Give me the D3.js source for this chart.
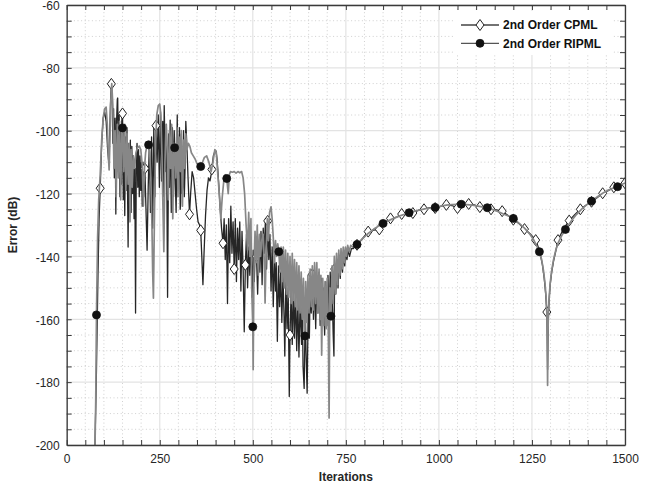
<!DOCTYPE html>
<html><head><meta charset="utf-8">
<script src="https://cdn.jsdelivr.net/npm/d3@7"></script>
<style>
html,body{margin:0;padding:0;background:#fff;}
svg{display:block;font-family:"Liberation Sans",Arial,Helvetica,sans-serif;}
</style></head>
<body>
<svg id="chart" width="662" height="486"></svg>
<script>
// ---------------- DATA ----------------
const xTicksMajor = [0, 250, 500, 750, 1000, 1250, 1500];
const yTicksMajor = [-200, -180, -160, -140, -120, -100, -80, -60];
const xLabel = "Iterations";
const yLabel = "Error (dB)";
const seriesNames = ["2nd Order CPML", "2nd Order RIPML"];
const cpmlMarkerStep = 30;               // diamond on samples where iteration % 30 == 0
const ripmlMarkerStep = 70, ripmlMarkerOffset = 10; // circle on iteration % 70 == 10

// CPML, oscillating early part  [iteration, dB]
const cpmlEarly = [[70,-215],[76,-200],[80,-176],[84,-146],[87,-128],[90,-118.3],[94,-104],[98,-96],[102,-94],[106,-97],[110,-106],[113,-110],[116,-99],[118,-90],[120,-85.1],[122,-88],[124,-104],[126,-93],[128,-115],[130,-96],[132,-126.5],[134,-97],[136,-90],[137,-89.6],[139,-110],[141,-95],[143,-121],[145,-99],[147,-117],[148,-97],[150,-94.5],[152,-122],[154,-100],[156,-127],[158,-102],[160,-119],[162,-99],[164,-125],[165,-137],[167,-104],[169,-123],[171,-103],[173,-126],[175,-105],[177,-120],[179,-108],[181,-128],[183,-112],[185,-158],[187,-110],[189,-104],[191,-118],[193,-106],[195,-121],[197,-108],[199,-119],[201,-110],[203,-124],[205,-110],[207,-121],[210,-112],[213,-125],[216,-138],[219,-118],[222,-104],[225,-126],[228,-102],[231,-131],[234,-99],[237,-121],[240,-98.4],[243,-110],[246,-95],[249,-118],[252,-94],[255,-116],[258,-97],[260,-121],[262,-92],[265,-113],[268,-98],[271,-153],[274,-101],[276,-118],[278,-96.6],[281,-126],[284,-99],[287,-121],[289,-100],[292,-117],[294,-126],[297,-95],[299,-118],[301,-111],[303,-99],[305,-125],[306,-123],[308,-101],[310,-120],[312,-118],[314,-100],[316,-121],[318,-112],[320,-97],[323,-105],[326,-115],[330,-126.6],[333,-120],[337,-113],[341,-115],[345,-120],[349,-125],[353,-129],[357,-130],[360,-131.7],[363,-140],[366,-149],[369,-139],[373,-127],[377,-119],[381,-115],[385,-116],[388,-114],[390,-112.3],[394,-108],[398,-106.6],[401,-106.4],[404,-109],[408,-116],[412,-124],[416,-131],[420,-135.8],[423,-128],[426,-141],[429,-130],[432,-155],[435,-128],[438,-142],[441,-124],[444,-139],[447,-129],[450,-144],[453,-128],[456,-148],[459,-131],[462,-141],[465,-129],[468,-151],[471,-132],[474,-144],[477,-164],[480,-142.7],[483,-133],[486,-150],[489,-137],[492,-146],[495,-134],[498,-153],[501,-138],[504,-148],[507,-136],[510,-140],[513,-152],[516,-138],[519,-145],[522,-132],[525,-149],[528,-131],[531,-139],[534,-128],[537,-144],[540,-128.7],[543,-141],[546,-133],[549,-151],[552,-137],[555,-156],[558,-140],[561,-151],[563,-142],[566,-167],[569,-143],[572,-156],[575,-145],[578,-161],[581,-146],[584,-159],[586,-171.7],[589,-148],[592,-163],[595,-150],[598,-184.6],[600,-165],[603,-151],[606,-168],[609,-150],[612,-166],[615,-152],[618,-170],[621,-154],[624,-172],[627,-155],[631,-168],[633,-153],[635,-175],[638,-182],[641,-156],[643,-170],[646,-183.5],[649,-155],[652,-166],[654,-150],[657,-158],[660,-145.7],[663,-160],[666,-147],[669,-163],[672,-146],[675,-158],[678,-145],[681,-162],[684,-147],[687,-160],[689,-150],[693,-165],[696,-148],[699,-162],[702,-146],[705,-160],[708,-145],[711,-158],[713,-150],[716,-165],[718,-171.7],[720,-144],[723,-152],[726,-141],[729,-150],[732,-140],[735,-147],[738,-139],[741,-145],[744,-138],[747,-143],[749,-139],[753,-141],[756,-138],[760,-140],[765,-137.5],[770,-137.5],[775,-136.5]];
// CPML, smooth late part
const cpmlLate = [[780,-136.3],[795,-134.3],[810,-132.1],[825,-131.6],[840,-131.4],[855,-129.2],[870,-127.9],[885,-127.6],[900,-126.5],[915,-126.4],[930,-126.2],[945,-125.3],[960,-125.0],[975,-124.5],[990,-124.6],[1005,-124.1],[1020,-123.6],[1035,-123.8],[1050,-124.6],[1065,-123.6],[1080,-123.3],[1095,-123.6],[1110,-124.3],[1125,-124.4],[1140,-125.0],[1155,-125.2],[1170,-125.6],[1185,-126.9],[1200,-128.3],[1215,-129.5],[1230,-131.3],[1245,-132.8],[1260,-134.8],[1270,-138.0],[1278,-142.5],[1283,-147],[1287,-152],[1290,-157.7],[1291,-165],[1292,-176],[1293,-167],[1294,-160],[1296,-154],[1299,-149],[1303,-145],[1308,-141.5],[1314,-138.3],[1320,-134.8],[1335,-131.2],[1350,-128.6],[1365,-126.7],[1380,-125.0],[1395,-123.7],[1410,-122.6],[1425,-121.3],[1440,-119.9],[1455,-119.1],[1470,-118.0],[1485,-117.5],[1500,-116.7]];

// RIPML, oscillating early part
const ripmlEarly = [[70,-215],[76,-201],[78,-186],[80,-158.6],[83,-134],[86,-122],[90,-114],[94,-103],[98,-96],[102,-93],[106,-92.5],[109,-98],[112,-108],[114,-112.5],[116,-104],[118,-92],[121,-85],[124,-92],[127,-112],[130,-100],[133,-121],[136,-98],[139,-115],[142,-97],[145,-122],[148,-100],[150,-99.1],[153,-113],[156,-98],[159,-119],[162,-101],[165,-117],[168,-104],[170,-129],[173,-106],[176,-118],[179,-108],[182,-112],[186,-107],[190,-105.5],[195,-104.9],[199,-106],[203,-111],[206,-124],[209,-112],[212,-107],[216,-104.6],[220,-104.5],[223,-107],[226,-115],[229,-130],[231,-145],[233,-153.3],[236,-125],[239,-104],[242,-95],[246,-92],[250,-91.5],[253,-95],[256,-108],[258,-121],[261,-138.5],[264,-110],[267,-98],[270,-105],[273,-122],[276,-100],[279,-112],[282,-98],[285,-128],[288,-104],[290,-105.4],[293,-115],[296,-99],[299,-121],[302,-102],[305,-113],[308,-100],[311,-124],[314,-103],[317,-112],[320,-101],[323,-106],[327,-104],[331,-105],[335,-107],[340,-108],[345,-109],[350,-110.5],[355,-111],[360,-111.4],[365,-110],[370,-108.5],[376,-108],[382,-110],[388,-113],[393,-110],[398,-106],[402,-107],[406,-114],[410,-120],[414,-128],[418,-121],[422,-116],[426,-114],[430,-115.2],[434,-120],[437,-114],[440,-113],[445,-113.2],[450,-113],[455,-113.5],[460,-113],[465,-113.4],[470,-113],[474,-115],[478,-120],[482,-130],[486,-138],[489,-126],[492,-140],[495,-128],[497,-150],[500,-162.4],[501,-176],[503,-145],[506,-132],[509,-142],[512,-130],[515,-146],[518,-133],[521,-140],[524,-135],[528,-133],[531,-142],[533,-154.8],[536,-138],[539,-128],[542,-135],[545,-126],[549,-124.2],[552,-128],[555,-134],[558,-142],[561,-135],[564,-140],[567,-136],[570,-138.5],[573,-145],[576,-137],[579,-148],[582,-137],[585,-150],[588,-138],[591,-152],[594,-139],[597,-153],[600,-140],[603,-155],[606,-139],[609,-154],[612,-141],[615,-156],[618,-142],[621,-157],[624,-143],[627,-158],[630,-145],[633,-160],[636,-147],[638,-162],[640,-165.3],[642,-148],[645,-161],[648,-146],[651,-158],[654,-144],[657,-156],[660,-143],[663,-157],[666,-142],[669,-155],[672,-142],[675,-158],[678,-144],[681,-160],[683,-146],[685,-171.4],[688,-147],[691,-162],[694,-148],[697,-163],[700,-147],[703,-165],[705,-191.4],[707,-150],[710,-159],[713,-143],[716,-155],[719,-140],[722,-152],[725,-139],[728,-149],[731,-138],[734,-146],[737,-137.5],[740,-144],[743,-137],[746,-142],[749,-137],[752,-140],[755,-136.5],[759,-138.5],[763,-136.5],[768,-137],[774,-136.3]];
// RIPML, smooth late part
const ripmlLate = [[780,-136.2],[795,-134.3],[810,-132.7],[825,-131.3],[840,-130.2],[850,-129.5],[865,-128.6],[880,-127.8],[895,-127.1],[910,-126.5],[920,-126.1],[935,-125.6],[950,-125.2],[965,-124.8],[980,-124.5],[990,-124.4],[1005,-124.0],[1020,-123.7],[1035,-123.5],[1050,-123.4],[1060,-123.4],[1075,-123.5],[1090,-123.7],[1105,-124.0],[1120,-124.3],[1130,-124.5],[1145,-125.1],[1160,-125.8],[1175,-126.6],[1190,-127.3],[1200,-127.9],[1215,-129.4],[1230,-131.0],[1245,-133.0],[1255,-134.8],[1265,-137.2],[1270,-138.5],[1276,-141],[1281,-144.5],[1285,-148.5],[1288,-153],[1290,-158],[1291,-164],[1292,-181],[1293,-165],[1294,-159],[1296,-153.5],[1299,-148.5],[1303,-144.5],[1308,-141],[1314,-138],[1320,-135.8],[1330,-133.4],[1340,-131.4],[1355,-128.8],[1370,-126.6],[1385,-124.8],[1400,-123.3],[1410,-122.4],[1425,-121.1],[1440,-119.9],[1455,-118.9],[1470,-118.2],[1480,-117.8],[1490,-117.2],[1500,-116.6]];

// ---------------- CHART ----------------
const W = 662, H = 486;
const m = {left: 66.7, right: 625, top: 5, bottom: 445};
const svg = d3.select("#chart");

const x = d3.scaleLinear().domain([0, 1500]).range([m.left, m.right]);
const y = d3.scaleLinear().domain([-200, -60]).range([m.bottom, m.top]);

const xMinor = d3.range(0, 1501, 50);
const yMinor = d3.range(-200, -59, 5);

const colCPML = "#262626", colRIPML = "#878787", axisCol = "#3a3a3a", textCol = "#262626";

svg.append("rect").attr("x", m.left).attr("y", m.top).attr("width", m.right - m.left).attr("height", m.bottom - m.top).attr("fill", "#fff");

// minor grid (dotted)
const grid = svg.append("g");
grid.selectAll(".mx").data(xMinor.filter(d => d % 250 !== 0)).join("line")
  .attr("x1", d => x(d)).attr("x2", d => x(d)).attr("y1", m.top).attr("y2", m.bottom)
  .attr("stroke", "#c4c4c4").attr("stroke-width", 0.8).attr("stroke-dasharray", "1,2.6");
grid.selectAll(".my").data(yMinor.filter(d => d % 20 !== 0)).join("line")
  .attr("y1", d => y(d)).attr("y2", d => y(d)).attr("x1", m.left).attr("x2", m.right)
  .attr("stroke", "#c4c4c4").attr("stroke-width", 0.8).attr("stroke-dasharray", "1,2.6");
// major grid (solid light)
grid.selectAll(".gx").data(xTicksMajor).join("line")
  .attr("x1", d => x(d)).attr("x2", d => x(d)).attr("y1", m.top).attr("y2", m.bottom)
  .attr("stroke", "#e3e3e3").attr("stroke-width", 1.2);
grid.selectAll(".gy").data(yTicksMajor).join("line")
  .attr("y1", d => y(d)).attr("y2", d => y(d)).attr("x1", m.left).attr("x2", m.right)
  .attr("stroke", "#e3e3e3").attr("stroke-width", 1.2);

svg.append("clipPath").attr("id", "clip").append("rect")
  .attr("x", m.left).attr("y", m.top).attr("width", m.right - m.left).attr("height", m.bottom - m.top);
const plot = svg.append("g").attr("clip-path", "url(#clip)");

const line = d3.line().x(d => x(d[0])).y(d => y(d[1]));
const cpml = cpmlEarly.concat(cpmlLate);
const ripml = ripmlEarly.concat(ripmlLate);

function diamond(g, cx, cy) {
  g.append("path").attr("d", `M${cx},${cy - 5.5}L${cx + 4},${cy}L${cx},${cy + 5.5}L${cx - 4},${cy}Z`)
    .attr("fill", "#fff").attr("stroke", "#222").attr("stroke-width", 1);
}
function dot(g, cx, cy) {
  g.append("circle").attr("cx", cx).attr("cy", cy).attr("r", 4).attr("fill", "#111").attr("stroke", "#111").attr("stroke-width", 0.8);
}

// CPML
plot.append("path").datum(cpml).attr("d", line).attr("fill", "none")
  .attr("stroke", colCPML).attr("stroke-width", 1.3).attr("stroke-linejoin", "round");
const cpmlMk = plot.append("g");
cpml.filter(d => d[0] % cpmlMarkerStep === 0 && d[1] >= -200).forEach(d => diamond(cpmlMk, x(d[0]), y(d[1])));

// RIPML
plot.append("path").datum(ripml).attr("d", line).attr("fill", "none")
  .attr("stroke", colRIPML).attr("stroke-width", 1.7).attr("stroke-linejoin", "round");
const ripMk = plot.append("g");
ripml.filter(d => d[0] % ripmlMarkerStep === ripmlMarkerOffset && d[1] >= -200).forEach(d => dot(ripMk, x(d[0]), y(d[1])));

// axes
const fmt = d => String(d);
const axB = svg.append("g").attr("transform", `translate(0,${m.bottom})`)
  .call(d3.axisBottom(x).tickValues(xMinor).tickSizeInner(-5).tickSizeOuter(0).tickPadding(9)
    .tickFormat(d => d % 250 === 0 ? fmt(d) : ""));
const axL = svg.append("g").attr("transform", `translate(${m.left},0)`)
  .call(d3.axisLeft(y).tickValues(yMinor).tickSizeInner(-5).tickSizeOuter(0).tickPadding(7)
    .tickFormat(d => d % 20 === 0 ? fmt(d) : ""));
const axT = svg.append("g").attr("transform", `translate(0,${m.top})`)
  .call(d3.axisTop(x).tickValues(xMinor).tickSizeInner(-5).tickSizeOuter(0).tickFormat(""));
const axR = svg.append("g").attr("transform", `translate(${m.right},0)`)
  .call(d3.axisRight(y).tickValues(yMinor).tickSizeInner(-5).tickSizeOuter(0).tickFormat(""));
[axB, axL, axT, axR].forEach(a => {
  a.select(".domain").attr("stroke", axisCol).attr("stroke-width", 1.3);
  a.selectAll(".tick line").attr("stroke", axisCol).attr("stroke-width", 1);
  a.selectAll("text").attr("fill", textCol).style("font-size", "12px")
    .style("font-family", '"Liberation Sans",Arial,sans-serif');
});
axL.selectAll("text").attr("dy", "0.4em");

// axis titles
svg.append("text").attr("x", (m.left + m.right) / 2).attr("y", 481).attr("text-anchor", "middle")
  .attr("fill", textCol).style("font-size", "12px").style("font-weight", "bold").text(xLabel);
svg.append("text").attr("transform", `translate(17,${(m.top + m.bottom) / 2}) rotate(-90)`)
  .attr("text-anchor", "middle").attr("fill", textCol).style("font-size", "12px").style("font-weight", "bold").text(yLabel);

// legend
const lg = svg.append("g");
lg.append("rect").attr("x", 455).attr("y", 11).attr("width", 158).attr("height", 44).attr("fill", "#fff");
const legY = [25, 43.3];
[colCPML, colRIPML].forEach((c, i) => {
  lg.append("line").attr("x1", 461).attr("x2", 499).attr("y1", legY[i]).attr("y2", legY[i])
    .attr("stroke", i === 0 ? "#444" : "#555").attr("stroke-width", 1.3);
  if (i === 0) diamond(lg, 480, legY[i]); else dot(lg, 480, legY[i]);
  lg.append("text").attr("x", 503).attr("y", legY[i] + 4.3).attr("fill", "#111")
    .style("font-size", "12px").style("font-weight", "bold").text(seriesNames[i]);
});
</script>
</body></html>
